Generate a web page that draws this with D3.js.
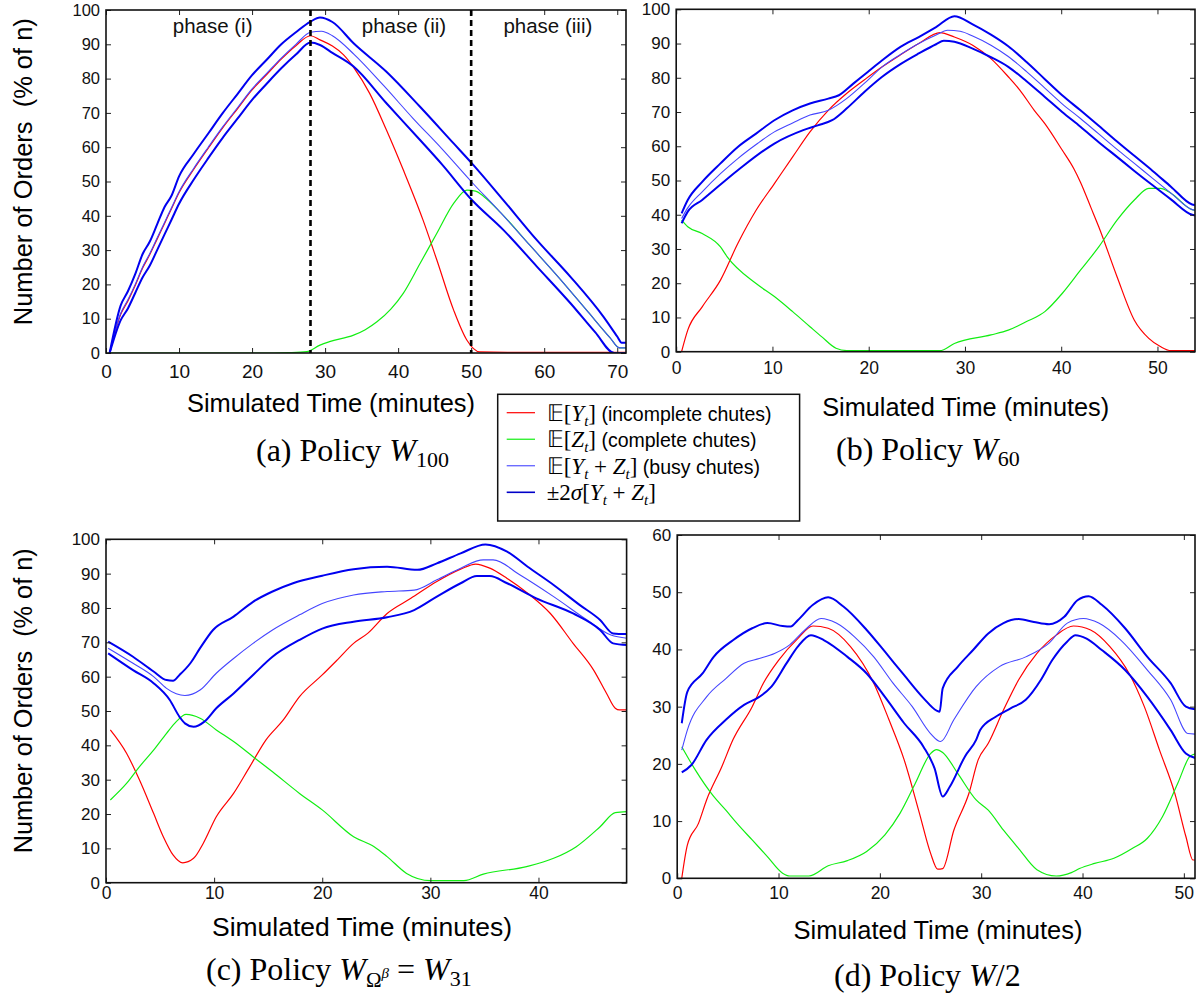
<!DOCTYPE html>
<html>
<head>
<meta charset="utf-8">
<script src="https://cdn.jsdelivr.net/npm/d3@7"></script>
<style>
  body { margin: 0; background: #fff; }
  svg { display: block; }
</style>
</head>
<body>
<div id="wrapper"></div>
<script>
// values: [minutes, % of n]

//* panel (a) policy W100
const aRed = [[0.5,0],[2,11.2],[3,15.2],[4,19.7],[5,24.7],[6,28.7],[7,33.2],[8,37.7],[9,42.2],[10,46.7],[12,53.5],[14,59.7],[16,65.7],[18,71.2],[20,76.7],[22,81.2],[24,85.7],[26,89.6],[28,92.5],[29.3,91.3],[31,89.5],[32.5,87],[34,83],[36.1,75.7],[38.4,65],[40.7,53.4],[43.4,38.8],[45.3,27.1],[47.6,12.5],[49.4,3.8],[51.2,0.3],[55,0.2],[71.2,0.2]]
const aGreen = [[0.5,0],[23,0],[25,0.1],[27.5,0.4],[29.3,2.3],[30.6,3.3],[33.9,5.2],[35.5,6.8],[37.1,9.1],[39,12.8],[40.7,17.4],[43,26.1],[45.3,34.9],[47.6,43.6],[49.4,47.5],[50.6,47.2],[51.8,45.5],[54,41],[58,31.5],[62,22],[66,12],[69,4.5],[70.3,1.5],[71.2,1.5]]
const aMean = [[0.5,0],[2,11.5],[3,15.5],[4,20],[5,25],[6,29],[7,33.5],[8,38],[9,42.5],[10,47],[12,53.8],[14,60],[16,66],[18,71.5],[20,77],[22,81.5],[24,86],[26,90],[28,93.5],[29.5,93.8],[31,92.5],[34,87],[38,78],[42,68.5],[46,59.5],[50,50],[54,41],[58,31.5],[62,22],[66,12],[69,4.5],[70.3,1.5],[71.2,1.5]]
const aUpper = [[0.5,0],[2,13.8],[3,18],[4,23],[5,28.8],[6,32.5],[7,37.5],[8,42.5],[9,46],[10,51.5],[12,58],[14,64],[16,70],[18,75.5],[20,81],[22,85.5],[24,90],[26,93.5],[28,96.6],[29.3,97.8],[31,96.5],[33.9,90.3],[38.4,82],[43,71.8],[47.6,61.1],[50.1,55.3],[54.4,44.6],[59,32.9],[63.6,22.2],[68.1,10.6],[70,4.8],[70.6,3],[71.2,3]]
const aLower = [[0.5,0],[2,9.5],[3,13],[4,17.5],[5,22],[6,25.5],[7,30],[8,34.5],[9,39],[10,43.5],[12,50.5],[14,56.8],[16,62.8],[18,68.3],[20,73.8],[22,78.5],[24,83],[26,87],[28,90.5],[29.3,89.8],[31,87.5],[33.9,83.5],[38.4,72.8],[43,62.1],[46,55],[50.1,44.6],[54.4,35.9],[59,25.2],[63.6,14.5],[67,6],[69.6,0],[71.2,0]]

//* panel (b) policy W60
const bRed = [[0.56,0],[1.2,6.3],[2.7,13.1],[4.6,20.9],[6.4,31.6],[8.3,41.3],[10.2,49.1],[12.1,56.9],[13.9,64.2],[15.8,70.5],[17.7,75.4],[19.6,79.5],[21.4,83.2],[23.3,86.7],[25.2,90],[27.4,93.2],[28.9,91.9],[30.8,89.5],[32.7,85.6],[34.5,80.3],[35.7,76.4],[37.2,70.5],[38.3,66.6],[40.1,58.9],[41.3,53.5],[42,49.5],[43.1,42],[43.9,36.5],[45.8,21.9],[47.6,9.2],[49.1,3.9],[50.3,1.5],[51.4,0.3],[53.9,0.3]]
const bGreen = [[0.56,38.4],[1.2,36.5],[2.7,34.5],[4.6,30.6],[5.3,27.7],[8.3,19.9],[10.2,16.1],[12.1,11.7],[13.9,7.3],[15.1,4.4],[16.6,1],[17.7,0.3],[27.4,0.3],[28.9,2.4],[32.7,4.9],[34.5,6.3],[36.4,8.8],[38.3,11.7],[40.1,17],[42,23.8],[43.9,30.6],[45.8,38.4],[47.6,44.3],[49.1,47.7],[50.3,47.7],[51.4,46.3],[53.6,41.5],[53.9,41.3]]
const bMean = [[0.56,38.9],[1.2,42],[2.7,46.7],[4.6,52],[6.4,56.4],[8.3,60.5],[10.2,64.2],[12.1,66.8],[13.9,69.1],[15.8,70.5],[17.7,73.9],[19.6,78.5],[21.4,83.2],[23.3,86.8],[25.2,90],[27,92.5],[28.2,93.9],[29.5,93.6],[30.8,92.2],[32.7,89.5],[34.5,86.2],[36.4,81.8],[38.3,77],[40.1,72.4],[42,68.1],[43.9,63.6],[45.8,59.1],[47.6,55],[49.5,50.6],[51.4,46.3],[53.6,41.5],[53.9,41.3]]
const bUpper = [[0.56,40.4],[1.2,44.3],[2.7,49.6],[4.6,55],[6.4,59.8],[8.3,63.7],[10.2,67.6],[12.1,70.5],[13.9,72.5],[15.8,73.9],[16.9,74.9],[18.4,78.3],[19.9,81.7],[21.4,85.1],[23.3,89],[25.2,91.9],[27,94.8],[28.9,98],[30.8,95.6],[32.7,92.6],[34.5,89.2],[36.4,84.6],[38.3,79.6],[40.1,74.9],[42,70.5],[43.9,66],[45.8,61.4],[47.6,57.2],[49.5,52.8],[51.4,48.2],[53.6,43],[53.9,42.8]]
const bLower = [[0.56,37.5],[1.2,40.9],[2.7,44.3],[6.4,53],[10.2,60.8],[13.2,64.7],[14.7,66.1],[16.2,67.6],[17.7,71],[19.6,76],[21.4,80.3],[23.3,84],[25.2,87.1],[27,89.8],[27.8,90.8],[28.9,90.5],[30.8,88.5],[32.7,86],[34.5,83.2],[36.4,79],[38.3,74.4],[40.1,70],[42,65.7],[43.9,61.2],[45.8,56.9],[47.6,52.8],[49.5,48.6],[51.4,44.5],[53.6,40],[53.9,39.8]]

//* panel (c) policy W31
const cRed = [[0.4,44.5],[1.9,37.7],[3.1,29.9],[4.4,20.2],[5.3,13.4],[6.2,8.1],[7.1,5.8],[8.1,7.1],[9,11.5],[10.2,19.2],[11.8,26],[13.3,33.8],[14.8,41.6],[16.4,47.4],[17.9,54.2],[20,60.5],[21.4,64.9],[22.9,69.7],[24.2,72.6],[26,78.4],[28.2,82.8],[30.6,87.7],[32.8,91.3],[34.2,92.8],[35.5,91.6],[37.1,88.6],[39,84.3],[41.1,78.4],[43.2,69.7],[45.1,61.9],[46.3,55.1],[47.1,50.8],[47.5,50.3],[48.2,50.3]]
const cGreen = [[0.4,24.1],[1.9,28.9],[3.1,33.8],[4.4,38.6],[5.6,43.5],[6.5,46.9],[7.4,49],[8.7,47.9],[10.2,44.5],[11.8,41.1],[13.6,36.7],[15.4,32.3],[17.9,26],[20,21.2],[22.9,13.4],[24.8,10.5],[26,7.6],[27.8,2.7],[30,0.6],[33.1,0.6],[34.9,2.5],[38.9,4.7],[41.4,7.1],[43.5,10.5],[45.7,16.3],[47.1,20.4],[48.2,20.7]]
const cMean = [[0.2,68.3],[2.5,63.9],[4.4,60],[5.6,56.6],[6.5,55],[7.3,54.5],[8.7,56.1],[10.2,61],[11.8,65.3],[13.6,69.7],[15.4,73.6],[17.9,78],[20,81.3],[22.9,83.8],[26,84.8],[28.5,85.2],[30.6,88.2],[32.8,91.6],[34.9,94],[35.8,94],[38.3,89.6],[41.4,83.3],[44.5,76.5],[46.7,72.1],[48.2,71.2]]
const cUpper = [[0.2,70.2],[2.5,65.8],[4.4,61.5],[5.6,59],[6.2,58.8],[6.8,60.5],[7.8,63.9],[8.7,68.3],[9.9,73.6],[11.8,77.5],[13.6,81.8],[15.4,84.8],[17.3,87.2],[20,89.4],[22.9,91.3],[26,92],[28.8,91.1],[30.6,93],[32.8,95.9],[35.1,98.5],[37.1,96.4],[39,92],[41.4,86.7],[43.8,80.9],[45.7,76.5],[46.9,72.6],[48.2,72.4]]
const cLower = [[0.2,66.8],[2.5,61.9],[4.4,58.1],[5.9,53.2],[6.8,48.3],[7.3,46.4],[8.1,45.4],[9.1,46.9],[10.2,50.8],[11.8,55.1],[13.6,60.5],[15.4,65.8],[17.9,70.7],[20,74],[22.9,76],[26,77.3],[28.5,79.4],[30.6,83.3],[32.8,87.2],[34.3,89.3],[35.5,89.3],[37.1,87.2],[39.8,82.8],[43.2,78.4],[45.7,73.6],[46.9,69.7],[48.2,69.2]]

//* panel (d) policy W/2
const dRed = [[0.45,0],[1,5.8],[2.1,9.6],[2.9,13.7],[4.4,19.5],[5.5,24.2],[7.4,30],[8.5,34.1],[10,38.1],[11.9,41.9],[13.4,44.1],[14.9,43.7],[17.1,40.5],[19.4,34.1],[20.9,27.7],[22.4,20.7],[23.9,11.4],[25,4.4],[25.7,1.6],[26.2,1.7],[27.3,8.4],[28.8,14.9],[29.7,20.7],[30.7,23.6],[32.2,29.4],[33.7,34.7],[35.5,39.3],[37.4,42.5],[39.1,44.1],[40.8,43.4],[42.7,40.5],[44.6,35.8],[46.1,30],[47.6,22.4],[49.1,14.9],[50.2,7.3],[50.9,3.2],[51.2,3.2]]
const dGreen = [[0.45,23],[1.8,18.9],[3.6,14.3],[4.8,11.9],[5.9,9.6],[7.4,6.7],[8.9,3.8],[10.4,0.9],[11.1,0.4],[13,0.4],[14.9,2.2],[16.8,3.1],[18.7,4.7],[20.5,7.6],[22,11.4],[23.5,16.6],[25,21.8],[25.6,22.5],[26.2,22],[27.7,18.3],[29.5,13.7],[30.7,11.9],[32.2,8.4],[33.7,5.2],[35.5,1.5],[37.4,0.4],[38.9,1],[39.7,1.7],[41.2,2.6],[43.1,3.5],[44.9,5.2],[46.4,7],[47.9,10.8],[49.4,16.6],[50.6,21.3],[51.2,21.8]]
const dMean = [[0.45,22.4],[1,25.9],[2.9,31.7],[4.8,34.9],[6.6,37.6],[8.1,38.4],[9.6,39.3],[11.1,40.8],[12.6,43.4],[14.2,45.4],[15.7,44.6],[17.5,42.2],[19.4,38.7],[21.3,34.1],[23.2,30],[25,25.3],[26,23.9],[27.3,27.7],[29.5,33.5],[31.8,37],[34.4,38.7],[36.7,41.1],[38.5,44.6],[40.1,45.4],[41.6,44.6],[43.8,41.6],[46.4,36.4],[48.7,31.2],[50.4,25.3],[51.2,25.2]]
const dUpper = [[0.45,27.1],[1,32.6],[2.5,35.8],[3.6,38.7],[5.5,41.6],[7.4,43.7],[8.9,44.6],[10.4,44.1],[11.2,44],[11.9,45.1],[13.4,47.8],[14.9,49.1],[16.4,47.5],[18.7,43.4],[20.5,39.6],[22.4,35.5],[24.3,31.5],[25.6,29.3],[25.9,29.1],[26.2,33.2],[27.7,37],[29.2,39.9],[30.7,42.8],[32.2,44.6],[33.7,45.3],[35.2,44.8],[36.7,44.4],[38.2,45.7],[39.5,48.6],[40.6,49.3],[41.9,47.8],[44.2,43.7],[46.4,38.7],[48.7,34.1],[50.2,30],[51.2,29.5]]
const dLower = [[0.45,18.5],[1.4,19.8],[2.9,24.2],[4.8,27.7],[6.6,30.3],[8.1,31.7],[9.3,33.5],[10.8,37.6],[11.9,40.5],[13.2,42.5],[14.5,41.6],[16.8,38.7],[18.7,35.8],[20.5,31.7],[22.4,27.1],[24.3,23],[25.4,19.2],[26.2,14.3],[26.9,16],[28.4,21.3],[29.5,24.2],[29.9,25.9],[31.4,28.2],[32.9,29.7],[34.4,31.2],[35.9,34.7],[37,38.1],[38.5,41.4],[39.3,42.5],[40.4,41.9],[41.9,39.9],[44.2,36.4],[46.4,31.7],[48.7,25.9],[50.2,21.8],[51.2,21]]

// ticks and labels
const xTicksA = [0, 10, 20, 30, 40, 50, 60, 70]
const xTicksB = [0, 10, 20, 30, 40, 50]
const xTicksC = [0, 10, 20, 30, 40]
const yTicks100 = [0, 10, 20, 30, 40, 50, 60, 70, 80, 90, 100]
const yTicks60 = [0, 10, 20, 30, 40, 50, 60]
const phaseBreaks = [28, 50]
const phaseNames = ["phase (i)", "phase (ii)", "phase (iii)"]
const phaseCenters = [14.6, 40.8, 60.5]
const legendNames = ["(incomplete chutes)", "(complete chutes)", "(busy chutes)", ""]

const SANS = "'Liberation Sans', Arial, Helvetica, sans-serif"
const SERIF = "'Liberation Serif', 'Times New Roman', Times, serif"
const colors = { red: "#ff0000", green: "#12ee12", mean: "#4545ff", band: "#0000f0" }

const svg = d3.select("#wrapper").append("svg")
    .attr("width", 1196)
    .attr("height", 994)

//! panel layout
const panels = [
    { id: "a", left: 106, right: 626, top: 10, bottom: 353, xMax: 71.2, yMax: 100,
      xTicks: xTicksA, yTicks: yTicks100, xFont: 19, yFont: 16.5, xPad: 11.5,
      s: [aRed, aGreen, aMean, aUpper, aLower],
      xLab: { cx: 331, y: 411.7, w: 288 }, yLab: { x: 32, cy: 171.7, w: 307 } },
    { id: "b", left: 676.2, right: 1195, top: 9.3, bottom: 351.7, xMax: 53.9, yMax: 100,
      xTicks: xTicksB, yTicks: yTicks100, xFont: 17.5, yFont: 17, xPad: 9.8,
      s: [bRed, bGreen, bMean, bUpper, bLower],
      xLab: { cx: 965.7, y: 416, w: 287 } },
    { id: "c", left: 106, right: 626.6, top: 539.3, bottom: 882.7, xMax: 48.15, yMax: 100,
      xTicks: xTicksC, yTicks: yTicks100, xFont: 17.5, yFont: 17, xPad: 3.6,
      s: [cRed, cGreen, cMean, cUpper, cLower],
      xLab: { cx: 362, y: 936, w: 300 }, yLab: { x: 32.3, cy: 700.8, w: 305 } },
    { id: "d", left: 677.2, right: 1195, top: 535, bottom: 878.3, xMax: 51.1, yMax: 60,
      xTicks: xTicksB, yTicks: yTicks60, xFont: 17.5, yFont: 17, xPad: 7.8,
      s: [dRed, dGreen, dMean, dUpper, dLower],
      xLab: { cx: 938, y: 939, w: 289 } },
]
const styles = [
    { c: colors.red, w: 1.2 },
    { c: colors.green, w: 1.2 },
    { c: colors.mean, w: 1.1 },
    { c: colors.band, w: 2 },
    { c: colors.band, w: 2 },
]

panels.forEach(p => {
    const x = d3.scaleLinear().domain([0, p.xMax]).range([p.left, p.right])
    const y = d3.scaleLinear().domain([0, p.yMax]).range([p.bottom, p.top])
    const g = svg.append("g").attr("class", "panel-" + p.id)

    g.append("clipPath").attr("id", "clip-" + p.id)
        .append("rect")
        .attr("x", p.left).attr("y", p.top)
        .attr("width", p.right - p.left).attr("height", p.bottom - p.top)

    const line = d3.line()
        .x(d => x(d[0]))
        .y(d => y(d[1]))
        .curve(d3.curveMonotoneX)

    g.append("g").attr("clip-path", `url(#clip-${p.id})`)
        .selectAll("path")
        .data(p.s)
        .join("path")
        .attr("d", line)
        .attr("fill", "none")
        .attr("stroke", (d, i) => styles[i].c)
        .attr("stroke-width", (d, i) => styles[i].w)
        .attr("stroke-linejoin", "round")

    // axes, ticks pointing inward like matlab
    const bottomAxis = g.append("g")
        .attr("transform", `translate(0,${p.bottom})`)
        .call(d3.axisBottom(x).tickValues(p.xTicks).tickSize(-5).tickSizeOuter(0).tickPadding(p.xPad))
    bottomAxis.selectAll("text").attr("font-size", p.xFont).attr("font-family", SANS).attr("fill", "#111")

    const leftAxis = g.append("g")
        .attr("transform", `translate(${p.left},0)`)
        .call(d3.axisLeft(y).tickValues(p.yTicks).tickSize(-5).tickSizeOuter(0).tickPadding(6))
    leftAxis.selectAll("text").attr("font-size", p.yFont).attr("font-family", SANS).attr("fill", "#111")

    g.append("g")
        .attr("transform", `translate(0,${p.top})`)
        .call(d3.axisTop(x).tickValues(p.xTicks).tickSize(-5).tickSizeOuter(0).tickFormat(""))
    g.append("g")
        .attr("transform", `translate(${p.right},0)`)
        .call(d3.axisRight(y).tickValues(p.yTicks).tickSize(-5).tickSizeOuter(0).tickFormat(""))

    g.selectAll(".domain").remove()
    g.selectAll(".tick line").attr("stroke", "#222").attr("stroke-width", 1)

    g.append("rect")
        .attr("x", p.left).attr("y", p.top)
        .attr("width", p.right - p.left).attr("height", p.bottom - p.top)
        .attr("fill", "none")
        .attr("stroke", "#111")
        .attr("stroke-width", 1.6)

    // axis titles
    g.append("text")
        .attr("x", p.xLab.cx).attr("y", p.xLab.y)
        .attr("text-anchor", "middle")
        .attr("font-family", SANS).attr("font-size", 26.5)
        .attr("textLength", p.xLab.w).attr("lengthAdjust", "spacingAndGlyphs")
        .text("Simulated Time (minutes)")

    if (p.yLab) {
        g.append("text")
            .attr("transform", `translate(${p.yLab.x},${p.yLab.cy}) rotate(-90)`)
            .attr("text-anchor", "middle")
            .attr("font-family", SANS).attr("font-size", 25.5)
            .attr("textLength", p.yLab.w).attr("lengthAdjust", "spacingAndGlyphs")
            .style("white-space", "pre")
            .text("Number of Orders  (% of n)")
    }

    // phase markers only on panel (a)
    if (p.id === "a") {
        g.selectAll(".phase-line")
            .data(phaseBreaks)
            .join("line")
            .attr("x1", d => x(d)).attr("x2", d => x(d))
            .attr("y1", p.top).attr("y2", p.bottom)
            .attr("stroke", "#000")
            .attr("stroke-width", 2.6)
            .attr("stroke-dasharray", "6,4")
        g.selectAll(".phase-label")
            .data(phaseNames)
            .join("text")
            .attr("x", (d, i) => x(phaseCenters[i]))
            .attr("y", 33.3)
            .attr("text-anchor", "middle")
            .attr("font-family", SANS)
            .attr("font-size", 20.5)
            .attr("fill", "#111")
            .text(d => d)
    }
})

//! captions
function caption(x0, y0, parts) {
    const t = svg.append("text")
        .attr("x", x0).attr("y", y0)
        .attr("font-family", SERIF)
        .attr("font-size", 32)
        .style("white-space", "pre")
    parts.forEach(q => {
        t.append("tspan")
            .attr("font-size", q.fs || 32)
            .attr("font-style", q.it ? "italic" : "normal")
            .attr("dy", q.dy || 0)
            .text(q.t)
    })
}
caption(256, 461, [{ t: "(a) Policy " }, { t: "W", it: 1 }, { t: "100", fs: 22, dy: 6 }])
caption(836, 460, [{ t: "(b) Policy " }, { t: "W", it: 1 }, { t: "60", fs: 22, dy: 6 }])
caption(206, 980, [{ t: "(c) Policy " }, { t: "W", it: 1 }, { t: "Ω", fs: 21, dy: 7 },
    { t: "β", fs: 15, it: 1, dy: -9 }, { t: " = ", dy: 2 }, { t: "W", it: 1 }, { t: "31", fs: 22, dy: 6 }])
caption(834, 986, [{ t: "(d) Policy " }, { t: "W", it: 1 }, { t: "/2" }])

//! legend
const legend = svg.append("g")
legend.append("rect")
    .attr("x", 497.7).attr("y", 394.3)
    .attr("width", 301.9).attr("height", 126.7)
    .attr("fill", "#fff")
    .attr("stroke", "#111")
    .attr("stroke-width", 1.5)

const legendY = d3.scalePoint().domain(d3.range(4)).range([412.7, 492.3])
const legendMath = [
    [{ t: "𝔼[" }, { t: "Y", it: 1 }, { t: "t", it: 1, sub: 1 }, { t: "]" }],
    [{ t: "𝔼[" }, { t: "Z", it: 1 }, { t: "t", it: 1, sub: 1 }, { t: "]" }],
    [{ t: "𝔼[" }, { t: "Y", it: 1 }, { t: "t", it: 1, sub: 1 }, { t: " + " }, { t: "Z", it: 1 }, { t: "t", it: 1, sub: 1 }, { t: "]" }],
    [{ t: "±2" }, { t: "σ", it: 1 }, { t: "[" }, { t: "Y", it: 1 }, { t: "t", it: 1, sub: 1 }, { t: " + " }, { t: "Z", it: 1 }, { t: "t", it: 1, sub: 1 }, { t: "]" }],
]
const legendStyle = [styles[0], styles[1], styles[2], { c: "#0000c8", w: 1.6 }]

legendMath.forEach((parts, i) => {
    const ly = legendY(i)
    legend.append("line")
        .attr("x1", 506.7).attr("x2", 535)
        .attr("y1", ly).attr("y2", ly)
        .attr("stroke", legendStyle[i].c)
        .attr("stroke-width", legendStyle[i].w)
    const t = legend.append("text")
        .attr("x", 546.7).attr("y", ly + 8)
        .attr("font-family", SERIF)
        .attr("font-size", 23)
        .style("white-space", "pre")
    let shifted = false
    parts.forEach(q => {
        let dy = 0
        if (q.sub && !shifted) { dy = 5; shifted = true }
        else if (!q.sub && shifted) { dy = -5; shifted = false }
        t.append("tspan")
            .attr("dy", dy)
            .attr("font-size", q.sub ? 15 : 23)
            .attr("font-style", q.it ? "italic" : "normal")
            .text(q.t)
    })
    if (legendNames[i]) {
        t.append("tspan")
            .attr("dy", shifted ? -5 : 0)
            .attr("font-family", SANS)
            .attr("font-size", 19.5)
            .text(" " + legendNames[i])
    }
})
</script>
</body>
</html>
